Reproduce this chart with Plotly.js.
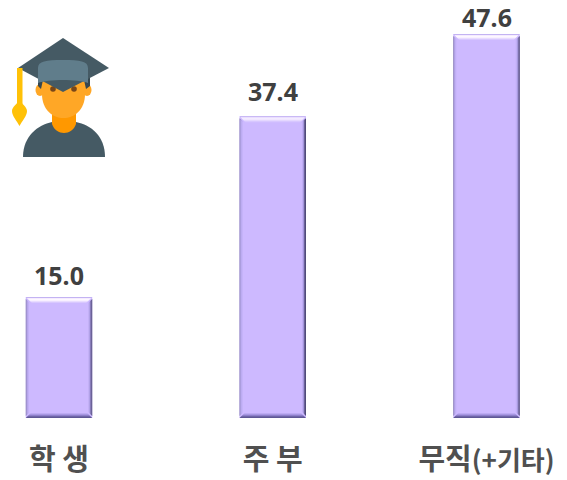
<!DOCTYPE html>
<html><head><meta charset="utf-8">
<script src="https://cdn.plot.ly/plotly-3.0.1.min.js"></script>
<style>html,body{margin:0;padding:0;background:#fff}#c{width:567px;height:480px}</style>
</head><body><div id="c"></div>
<script>
const categories = ['학 생', '주 부', '무직<span style="font-size:26px">(+기타)</span>'];
const values = [15.0, 37.4, 47.6];
const valueLabels = ['15.0', '37.4', '47.6'];
const barWidth = 0.311;
const unitX = 0.00468, unitY = 0.1239;
const labelLift = [3, 6, -2];

const icon = `<svg xmlns="http://www.w3.org/2000/svg" viewBox="0 0 130 170" width="130" height="170">
<path d="M23 157 C23 136 38 125 52 122 H76 C91 125 105 136 105 157 Z" fill="#455a64"/>
<path d="M52 112 H76 V124 C72 136 56 136 52 124 Z" fill="#ff9800"/>
<ellipse cx="40" cy="90" rx="4.500" ry="6" fill="#ffa726"/><ellipse cx="87" cy="90" rx="4.500" ry="6" fill="#ffa726"/>
<path d="M42 74 H85 V94 C85 110 74 118 63.500 118 C53 118 42 110 42 94 Z" fill="#ffa726"/>
<path d="M38 76 H90 V86 L86 89 L84 80 H43 L41 89 L38 86 Z" fill="#37474f"/>
<circle cx="53" cy="89" r="2.800" fill="#784719"/><circle cx="74" cy="89" r="2.800" fill="#784719"/>
<path d="M63 38 L109 68 L63 92 L18 68 Z" fill="#455a64"/>
<path d="M38 68 C38 61 46 60 63 60 C80 60 88 61 88 68 V83 C78 79 48 79 38 83 Z" fill="#607d8b"/>
<rect x="17" y="68" width="5.500" height="36" fill="#ffc107"/>
<path d="M19.500 100 C22 104 27 107 27 111 C27 116 22 121 19.500 126 C17 121 12 116 12 111 C12 107 17 104 19.500 100 Z" fill="#ffc107"/>
</svg>`;

const xs = categories.map((_, i) => i);
const shapes = [];
function poly(pts, color) {
  shapes.push({type:'path', xref:'x', yref:'y', layer:'above', line:{width:0}, fillcolor:color,
    path:'M' + pts.map(p => p[0] + ',' + p[1]).join(' L') + ' Z'});
}
// Each edge of a bar is a stack of thin strips, outermost first.
const topStrips    = ['#c3b3f2', '#f5ebff', '#fdf8ff', '#f8f0ff', '#e8dcff', '#d8c8ff'];
const bottomStrips = ['#5f5796', '#6f66a8', '#8e7fca', '#a797e2', '#bcaaf2'];
const leftStrips   = ['#8d84b8', '#ab9de0', '#bfaef4'];
const rightStrips  = ['#4f4a7a', '#6a6298', '#a395dc', '#c0aff4'];
values.forEach((v, i) => {
  const l = i - barWidth/2, r = i + barWidth/2;
  topStrips.forEach((c, k) => {
    const a = k + 1, b = k;
    poly([[l+b*unitX,v-b*unitY],[r-b*unitX,v-b*unitY],[r-a*unitX,v-a*unitY],[l+a*unitX,v-a*unitY]], c);
  });
  bottomStrips.forEach((c, k) => {
    const a = k + 1, b = k;
    poly([[l+b*unitX,b*unitY],[r-b*unitX,b*unitY],[r-a*unitX,a*unitY],[l+a*unitX,a*unitY]], c);
  });
  leftStrips.forEach((c, k) => {
    const a = k + 1, b = k;
    poly([[l+b*unitX,(b+2)*unitY],[l+b*unitX,v-(b+2)*unitY],[l+a*unitX,v-(a+2)*unitY],[l+a*unitX,(a+2)*unitY]], c);
  });
  rightStrips.forEach((c, k) => {
    const a = k + 1, b = k;
    poly([[r-b*unitX,(b+2)*unitY],[r-b*unitX,v-(b+2)*unitY],[r-a*unitX,v-(a+2)*unitY],[r-a*unitX,(a+2)*unitY]], c);
  });
});

Plotly.newPlot('c', [{
  type:'bar', x:xs, y:values, width:barWidth,
  marker:{color:'#cdb9ff', line:{width:0}},
  hoverinfo:'skip'
}], {
  width:567, height:480, showlegend:false,
  margin:{l:0, r:0, t:0, b:62, pad:0},
  paper_bgcolor:'#fff', plot_bgcolor:'#fff',
  xaxis:{range:[-0.276, 2.3766], tickmode:'array', tickvals:xs, ticktext:categories,
    ticklen:0, showgrid:false, zeroline:false, showline:false, ticklabelstandoff:22, tickangle:0,
    tickfont:{family:'"Noto Sans CJK KR", sans-serif', size:29, color:'#505050', weight:700}},
  yaxis:{range:[0, 51.8], visible:false, showgrid:false, zeroline:false},
  shapes:shapes,
  annotations: values.map((v, i) => ({
    x:xs[i], y:v, xref:'x', yref:'y', text:valueLabels[i], showarrow:false,
    xanchor:'center', yanchor:'bottom', yshift:labelLift[i],
    font:{family:'"Noto Sans", sans-serif', size:25, color:'#404040', weight:700}
  })),
  images:[{source:'data:image/svg+xml;utf8,' + encodeURIComponent(icon), xref:'paper', yref:'paper',
    x:0, y:1, sizex:130/567, sizey:170/418, xanchor:'left', yanchor:'top', sizing:'stretch', layer:'above'}]
}, {displayModeBar:false, staticPlot:true});
</script></body></html>
